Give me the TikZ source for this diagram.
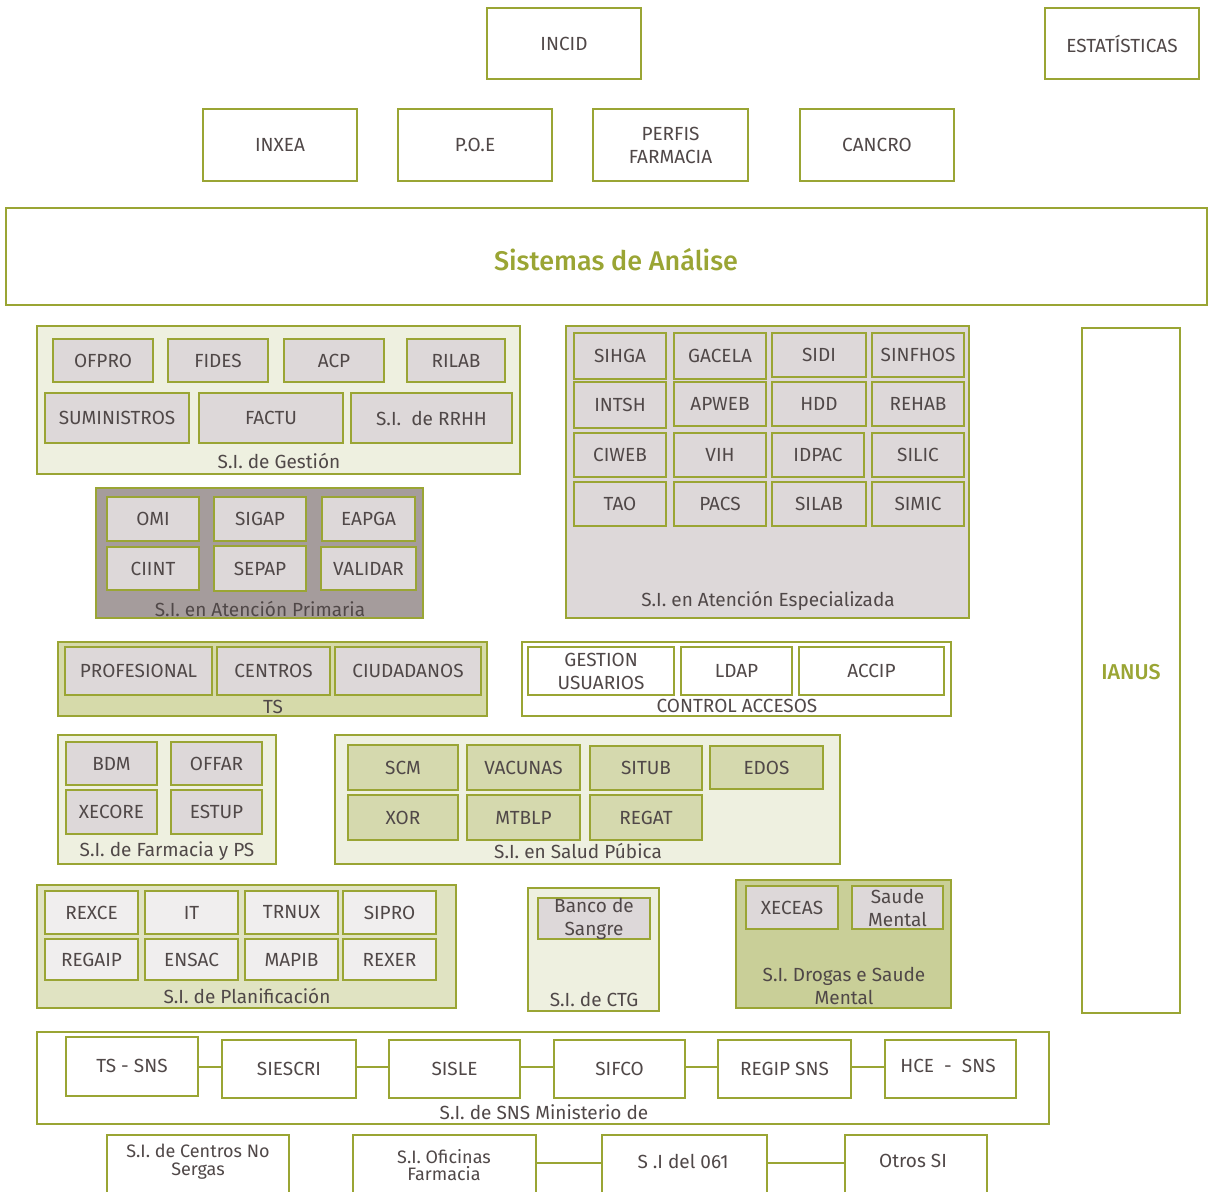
\documentclass[tikz,border=0pt]{standalone}
\usepackage{fontspec}
\setmainfont{Fira Sans}[BoldFont={Fira Sans Medium}]
\definecolor{olive}{RGB}{154,165,52}
\definecolor{cream}{RGB}{238,240,224}
\definecolor{graybox}{RGB}{221,216,217}
\definecolor{prim}{RGB}{165,156,156}
\definecolor{tsfill}{RGB}{214,218,170}
\definecolor{spfill}{RGB}{213,217,174}
\definecolor{planfill}{RGB}{224,227,194}
\definecolor{planinner}{RGB}{240,238,238}
\definecolor{drogas}{RGB}{201,207,152}
\definecolor{ink}{RGB}{80,72,72}

\tikzset{
  frame/.style={draw=olive, line width=2pt, text=ink, font=\fontsize{19}{23}\selectfont, align=center, inner sep=0pt},
  outer/.style={frame, fill=white},
  gbox/.style={frame, fill=graybox, line width=1.8pt},
  wbox/.style={frame, fill=white, line width=1.8pt},
  group/.style={draw=olive, line width=2pt},
  lbl/.style={text=ink, font=\fontsize{19}{23}\selectfont, inner sep=0pt, align=center},
  link/.style={draw=olive, line width=2.5pt},
}
% box from corners: style, name, x1, y1, x2, y2, text
\newcommand\boxat[7]{%
  \node[#1, minimum width={#5pt-#3pt}, minimum height={#6pt-#4pt}] (#2)
    at ({(#3+#5)/2},{(#4+#6)/2}) {#7};}

\begin{document}
\begin{tikzpicture}[x=1pt,y=-1pt]
\useasboundingbox (0,0) rectangle (1214,1191);
\clip (0,0) rectangle (1214,1191);
\fill[white] (0,0) rectangle (1214,1191);

% upper layer
\boxat{outer}{incid}{487}{8}{641}{79}{INCID}
\boxat{outer}{estat}{1045}{8}{1199}{79}{ESTATÍSTICAS}
\boxat{outer}{inxea}{203}{109}{357}{181}{INXEA}
\boxat{outer}{poe}{398}{109}{552}{181}{P.O.E}
\boxat{outer}{perfis}{593}{109}{748}{181}{PERFIS\\FARMACIA}
\boxat{outer}{cancro}{800}{109}{954}{181}{CANCRO}
\boxat{outer}{analise}{6}{208}{1207}{305}{}
\node[text=olive, font=\fontsize{27}{30}\selectfont\bfseries] (analiset) at (616,260) {Sistemas de Análise};

% IANUS
\boxat{outer}{ianus}{1082}{328}{1180}{1013}{}
\node[text=olive, font=\fontsize{21.5}{24}\selectfont\bfseries] (ianust) at (1131,672) {IANUS};

% S.I. de Gestion
\boxat{group, fill=cream}{gest}{37}{326}{520}{474}{}
\boxat{gbox}{ofpro}{53}{339}{153}{382}{OFPRO}
\boxat{gbox}{fides}{168}{339}{268}{382}{FIDES}
\boxat{gbox}{acp}{284}{339}{384}{382}{ACP}
\boxat{gbox}{rilab}{407}{339}{505}{382}{RILAB}
\boxat{gbox}{sumin}{45}{393}{189}{443}{SUMINISTROS}
\boxat{gbox}{factu}{199}{393}{343}{443}{FACTU}
\boxat{gbox}{rrhh}{351}{393}{512}{443}{S.I.\ \ de RRHH}
\node[lbl] (gestl) at (279,461) {S.I. de Gestión};

% Atencion Primaria
\boxat{group, fill=prim}{prima}{96}{488}{423}{618}{}
\boxat{gbox}{omi}{107}{497}{199}{541}{OMI}
\boxat{gbox}{sigap}{214}{497}{306}{541}{SIGAP}
\boxat{gbox}{eapga}{322}{497}{415}{541}{EAPGA}
\boxat{gbox}{ciint}{107}{547}{199}{590}{CIINT}
\boxat{gbox}{sepap}{214}{546}{306}{591}{SEPAP}
\boxat{gbox}{valid}{321}{547}{416}{590}{VALIDAR}
\node[lbl] (primal) at (260,609) {S.I. en Atención Primaria};

% Atencion Especializada
\boxat{group, fill=graybox}{espec}{566}{326}{969}{618}{}
\boxat{gbox}{sihga}{574}{333}{666}{379}{SIHGA}
\boxat{gbox}{gacela}{674}{333}{766}{379}{GACELA}
\boxat{gbox}{sidi}{772}{333}{866}{377}{SIDI}
\boxat{gbox}{sinfhos}{872}{333}{964}{377}{SINFHOS}
\boxat{gbox}{intsh}{574}{382}{666}{428}{INTSH}
\boxat{gbox}{apweb}{674}{382}{766}{426}{APWEB}
\boxat{gbox}{hdd}{772}{382}{866}{426}{HDD}
\boxat{gbox}{rehab}{872}{382}{964}{426}{REHAB}
\boxat{gbox}{ciweb}{574}{433}{666}{477}{CIWEB}
\boxat{gbox}{vih}{674}{433}{766}{477}{VIH}
\boxat{gbox}{idpac}{772}{433}{864}{477}{IDPAC}
\boxat{gbox}{silic}{872}{433}{964}{477}{SILIC}
\boxat{gbox}{tao}{574}{482}{666}{526}{TAO}
\boxat{gbox}{pacs}{674}{482}{766}{526}{PACS}
\boxat{gbox}{silab}{772}{482}{866}{526}{SILAB}
\boxat{gbox}{simic}{872}{482}{964}{526}{SIMIC}
\node[lbl] (especl) at (768,601) {S.I. en Atención Especializada};

% TS
\boxat{group, fill=tsfill}{ts}{58}{642}{487}{716}{}
\boxat{gbox}{profes}{65}{647}{212}{695}{PROFESIONAL}
\boxat{gbox}{centros}{217}{647}{330}{695}{CENTROS}
\boxat{gbox}{ciudad}{335}{647}{481}{695}{CIUDADANOS}
\node[lbl] (tsl) at (273,707) {TS};

% Control accesos
\boxat{group, fill=white}{ctrl}{522}{642}{951}{716}{}
\boxat{wbox}{gestus}{528}{647}{674}{695}{\fontsize{19}{21}\selectfont GESTION\\USUARIOS}
\boxat{wbox}{ldap}{681}{647}{792}{695}{LDAP}
\boxat{wbox}{accip}{799}{647}{944}{695}{ACCIP}
\node[lbl] (ctrll) at (737,706) {CONTROL ACCESOS};

% Farmacia y PS
\boxat{group, fill=cream}{farm}{58}{735}{276}{864}{}
\boxat{gbox}{bdm}{66}{742}{157}{785}{BDM}
\boxat{gbox}{offar}{171}{742}{262}{785}{OFFAR}
\boxat{gbox}{xecore}{66}{790}{157}{834}{XECORE}
\boxat{gbox}{estup}{171}{790}{262}{834}{ESTUP}
\node[lbl] (farml) at (167,851) {S.I. de Farmacia y PS};

% Salud Publica
\boxat{group, fill=cream}{salud}{335}{735}{840}{864}{}
\boxat{gbox, fill=spfill}{scm}{348}{745}{458}{790}{SCM}
\boxat{gbox, fill=spfill}{vacun}{467}{745}{580}{790}{VACUNAS}
\boxat{gbox, fill=spfill}{situb}{590}{746}{702}{790}{SITUB}
\boxat{gbox, fill=spfill}{edos}{710}{746}{823}{789}{EDOS}
\boxat{gbox, fill=spfill}{xor}{348}{795}{458}{840}{XOR}
\boxat{gbox, fill=spfill}{mtblp}{467}{795}{580}{840}{MTBLP}
\boxat{gbox, fill=spfill}{regat}{590}{795}{702}{840}{REGAT}
\node[lbl] (saludl) at (578,851) {S.I. en Salud Púbica};

% Planificacion
\boxat{group, fill=planfill}{plan}{37}{885}{456}{1008}{}
\boxat{gbox, fill=planinner}{rexce}{45}{891}{138}{934}{REXCE}
\boxat{gbox, fill=planinner}{it}{145}{891}{238}{934}{IT}
\boxat{gbox, fill=planinner}{trnux}{245}{891}{338}{934}{TRNUX}
\boxat{gbox, fill=planinner}{sipro}{343}{891}{436}{934}{SIPRO}
\boxat{gbox, fill=planinner}{regaip}{45}{939}{138}{980}{REGAIP}
\boxat{gbox, fill=planinner}{ensac}{145}{939}{238}{980}{ENSAC}
\boxat{gbox, fill=planinner}{mapib}{245}{939}{338}{980}{MAPIB}
\boxat{gbox, fill=planinner}{rexer}{343}{939}{436}{980}{REXER}
\node[lbl] (planl) at (247,996) {S.I. de Planificación};

% CTG
\boxat{group, fill=cream}{ctg}{528}{888}{659}{1011}{}
\boxat{gbox}{banco}{538}{898}{650}{939}{\fontsize{19}{17}\selectfont Banco de\\Sangre}
\node[lbl] (ctgl) at (594,999) {S.I. de CTG};

% Drogas e Saude Mental
\boxat{group, fill=drogas}{drog}{736}{880}{951}{1008}{}
\boxat{gbox}{xeceas}{746}{886}{838}{929}{XECEAS}
\boxat{gbox}{saudem}{852}{886}{943}{929}{\fontsize{19}{17}\selectfont Saude\\Mental}
\node[lbl, font=\fontsize{19}{23}\selectfont] (drogl) at (844,986) {S.I. Drogas e Saude\\Mental};

% SNS Ministerio
\boxat{group, fill=white}{sns}{37}{1032}{1049}{1124}{}
\boxat{wbox}{tssns}{66}{1037}{198}{1096}{}
\node[lbl] (tssnst) at (132,1066) {TS - SNS};
\boxat{wbox}{siescri}{222}{1040}{356}{1098}{SIESCRI}
\boxat{wbox}{sisle}{389}{1040}{520}{1098}{SISLE}
\boxat{wbox}{sifco}{554}{1040}{685}{1098}{SIFCO}
\boxat{wbox}{regip}{718}{1040}{851}{1098}{REGIP SNS}
\boxat{wbox}{hce}{885}{1040}{1016}{1098}{}
\node[lbl] (hcet) at (948,1066) {HCE\ \ -\ \ SNS};
\node[lbl] (snsl) at (544,1112) {S.I. de SNS Ministerio de};
\draw[link] (tssns.east |- 0,1067) -- (siescri.west |- 0,1067);
\draw[link] (siescri.east |- 0,1067) -- (sisle.west |- 0,1067);
\draw[link] (sisle.east |- 0,1067) -- (sifco.west |- 0,1067);
\draw[link] (sifco.east |- 0,1067) -- (regip.west |- 0,1067);
\draw[link] (regip.east |- 0,1067) -- (hce.west |- 0,1067);

% bottom row (runs past the lower edge)
\boxat{wbox}{centrosno}{107}{1135}{289}{1215}{}
\node[lbl, font=\fontsize{18}{18}\selectfont] (centrosnot) at (198,1162) {S.I. de Centros No\\Sergas};
\boxat{wbox}{oficinas}{353}{1135}{536}{1215}{}
\node[lbl, font=\fontsize{18}{17}\selectfont] (oficinast) at (444,1165) {S.I. Oficinas\\Farmacia};
\boxat{wbox}{s061}{602}{1135}{767}{1215}{}
\node[lbl] (s061t) at (683,1161) {S .I del 061};
\boxat{wbox}{otros}{845}{1135}{987}{1215}{}
\node[lbl] (otrost) at (913,1161) {Otros SI};
\draw[link] (oficinas.east |- 0,1163) -- (s061.west |- 0,1163);
\draw[link] (s061.east |- 0,1163) -- (otros.west |- 0,1163);
\end{tikzpicture}
\end{document}
